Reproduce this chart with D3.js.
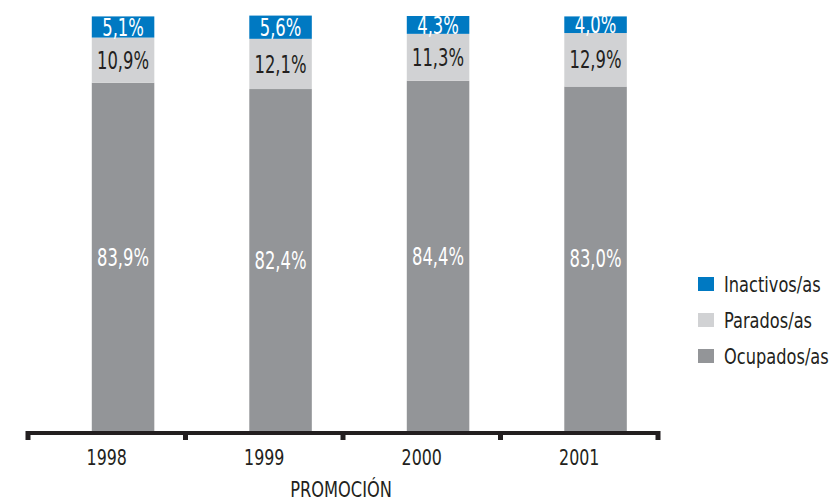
<!DOCTYPE html>
<html><head><meta charset="utf-8">
<script src="https://cdn.jsdelivr.net/npm/d3@7"></script>
<style>
html,body{margin:0;padding:0;background:#fff;}
svg{display:block;font-family:"Liberation Sans Narrow","DejaVu Sans Condensed","Roboto Condensed",sans-serif;}
</style></head>
<body><svg id="c" width="832" height="501"></svg>
<script>
const categories = ["1998","1999","2000","2001"];
const seriesNames = ["Ocupados/as","Parados/as","Inactivos/as"];
const ocupados = [83.9, 82.4, 84.4, 83.0];
const parados = [10.9, 12.1, 11.3, 12.9];
const inactivos = [5.1, 5.6, 4.3, 4.0];
const labelsOcupados = ["83,9%","82,4%","84,4%","83,0%"];
const labelsParados = ["10,9%","12,1%","11,3%","12,9%"];
const labelsInactivos = ["5,1%","5,6%","4,3%","4,0%"];
const axisTitle = "PROMOCIÓN";

const colors = {"Ocupados/as":"#939598","Parados/as":"#d1d2d4","Inactivos/as":"#0079c2"};
const textColors = {"Ocupados/as":"#ffffff","Parados/as":"#231f20","Inactivos/as":"#ffffff"};
const valueMap = {"Ocupados/as":ocupados,"Parados/as":parados,"Inactivos/as":inactivos};
const labelMap = {"Ocupados/as":labelsOcupados,"Parados/as":labelsParados,"Inactivos/as":labelsInactivos};

const rows = categories.map((c,i)=>{
  const r={cat:c,i:i};
  seriesNames.forEach(s=>r[s]=valueMap[s][i]);
  return r;
});
const stack = d3.stack().keys(seriesNames)(rows);

const svg = d3.select("#c");
const x = d3.scaleBand().domain(categories).range([28,658]).padding(0);
const y = d3.scaleLinear().domain([0,100]).range([431,16]);
const barOff = x.bandwidth()*0.405, barW = x.bandwidth()*0.397;

function squeeze(cx,k){return `translate(${cx},0) scale(${k},1) translate(${-cx},0)`;}

const g = svg.append("g");
stack.forEach(layer=>{
  const s = layer.key;
  g.selectAll(null).data(layer).enter().append("rect")
    .attr("x",d=>x(d.data.cat)+barOff)
    .attr("width",barW)
    .attr("y",d=>y(d[1]))
    .attr("height",d=>y(d[0])-y(d[1]))
    .attr("fill",colors[s]);
  g.selectAll(null).data(layer).enter().append("text")
    .attr("x",d=>x(d.data.cat)+barOff+barW/2)
    .attr("y",d=>(y(d[0])+y(d[1]))/2)
    .attr("dy","0.36em")
    .attr("text-anchor","middle")
    .attr("font-size",24)
    .attr("fill",textColors[s])
    .attr("transform",d=>squeeze(x(d.data.cat)+barOff+barW/2,0.76))
    .text(d=>labelMap[s][d.data.i]);
});

// axis
const ax = svg.append("g");
ax.append("rect").attr("x",x.range()[0]).attr("y",431).attr("width",x.range()[1]-x.range()[0]).attr("height",4).attr("fill","#231f20");
const tickPos = categories.map(c=>x(c)).concat([x.range()[1]]);
ax.selectAll(null).data(tickPos).enter().append("rect")
  .attr("x",d=>d-2.5).attr("y",431).attr("width",5).attr("height",9).attr("fill","#231f20");
ax.selectAll(null).data(categories).enter().append("text")
  .attr("x",d=>x(d)+x.bandwidth()/2).attr("y",465)
  .attr("text-anchor","middle").attr("font-size",22).attr("fill","#231f20")
  .attr("transform",d=>squeeze(x(d)+x.bandwidth()/2,0.8))
  .text(d=>d);
svg.append("text").attr("x",341).attr("y",497).attr("text-anchor","middle")
  .attr("font-size",21).attr("fill","#231f20")
  .attr("transform",squeeze(341,0.86))
  .text(axisTitle);

// legend
const legendOrder = ["Inactivos/as","Parados/as","Ocupados/as"];
const lg = svg.append("g").attr("transform","translate(698,277)");
legendOrder.forEach((s,i)=>{
  const row = lg.append("g").attr("transform",`translate(0,${i*36})`);
  row.append("rect").attr("width",16).attr("height",14).attr("fill",colors[s]);
  row.append("text").attr("x",26).attr("y",7).attr("dy","0.36em")
    .attr("font-size",22).attr("fill","#231f20")
    .attr("transform",squeeze(26,0.82))
    .text(s);
});
</script></body></html>
